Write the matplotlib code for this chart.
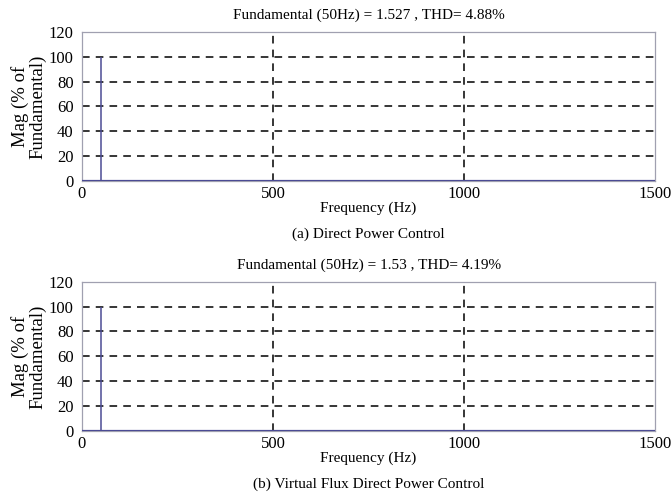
import numpy as np
from matplotlib import pyplot as plt

plt.rcParams['font.family'] = ['Liberation Serif', 'DejaVu Serif']
plt.rcParams['font.size'] = 11

# FFT spectrum data (harmonic frequency in Hz, magnitude in % of fundamental)
freq_a = [50]
mag_a = [100]
freq_b = [50]
mag_b = [100]

titles = ['Fundamental (50Hz) = 1.527 , THD= 4.88%',
          'Fundamental (50Hz) = 1.53 , THD= 4.19%']
captions = ['(a) Direct Power Control',
            '(b) Virtual Flux Direct Power Control']

xticks = [0, 500, 1000, 1500]
yticks = [0, 20, 40, 60, 80, 100, 120]

line_color = '#4b4b94'
box_color = '#a0a0b0'

fig = plt.figure(figsize=(6.72, 4.97), dpi=100)
ax_a = fig.add_axes([0.122, 0.636, 0.853, 0.300])
ax_b = fig.add_axes([0.122, 0.133, 0.853, 0.300])

for ax, f, m, t, c in [(ax_a, freq_a, mag_a, titles[0], captions[0]),
                       (ax_b, freq_b, mag_b, titles[1], captions[1])]:
    ax.set_xlim(0, 1500)
    ax.set_ylim(0, 120)
    # dashed grid on the inner ticks only
    for gx in xticks[1:-1]:
        ax.axvline(gx, color='k', ls=(0, (5, 4)), lw=1.1, zorder=1)
    for gy in yticks[1:-1]:
        ax.axhline(gy, color='k', ls=(0, (5, 4)), lw=1.1, zorder=1)
    ax.vlines(f, 0, m, color=line_color, lw=1.1, zorder=3)
    ax.axhline(0, color=line_color, lw=1.6, zorder=3)
    ax.set_xticks(xticks)
    ax.set_yticks(yticks)
    ax.tick_params(length=0, labelsize=12)
    ax.tick_params(axis='x', pad=4)
    ax.tick_params(axis='y', pad=6)
    for s in ax.spines.values():
        s.set_color(box_color)
        s.set_linewidth(0.9)
    ax.set_title(t, fontsize=11, pad=9)
    ax.set_xlabel('Frequency (Hz)', fontsize=11)
    ax.xaxis.set_label_coords(0.5, -0.14)
    ax.set_ylabel('Mag (% of\nFundamental)', fontsize=13.5, linespacing=1.0)
    ax.yaxis.set_label_coords(-0.062, 0.5)
    ax.text(0.5, -0.36, c, transform=ax.transAxes, ha='center',
            va='center', fontsize=11)

plt.savefig('out.png', dpi=100)
